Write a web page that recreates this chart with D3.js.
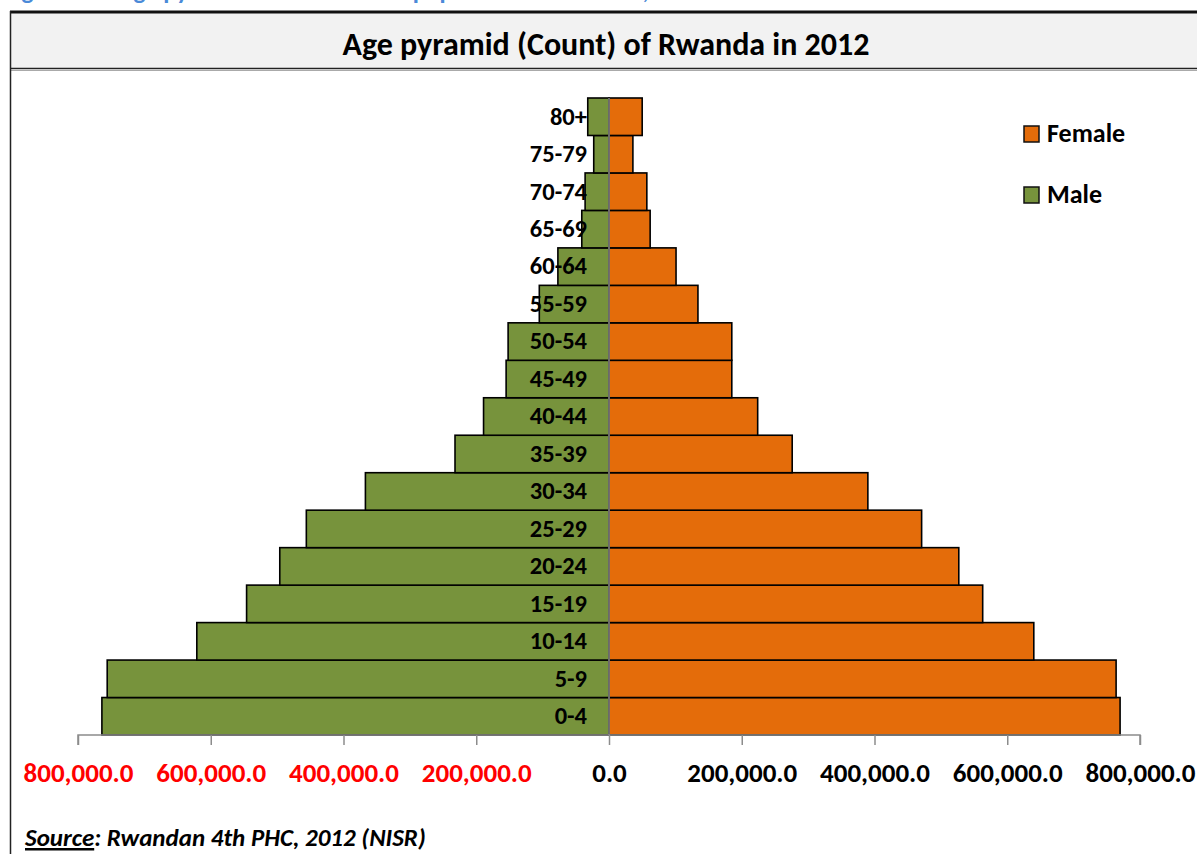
<!DOCTYPE html>
<html>
<head>
<meta charset="utf-8">
<script src="https://cdn.jsdelivr.net/npm/d3@7"></script>
<style>
  html, body { margin: 0; padding: 0; background: #fff; }
  svg { display: block; font-family: Carlito, Lato, "Open Sans", sans-serif; }
</style>
</head>
<body>
<svg id="chart" width="1197" height="854"></svg>
<script>
// ---- data ----
const ageGroups = ["0-4","5-9","10-14","15-19","20-24","25-29","30-34","35-39","40-44","45-49","50-54","55-59","60-64","65-69","70-74","75-79","80+"];
const maleValues = [764000,756000,621000,546000,496000,456000,367000,232000,189000,155000,152000,105000,77000,41000,36000,23000,32000];
const femaleValues = [770000,764000,640000,563000,527000,471000,390000,276000,224000,185000,185000,134000,101000,62000,57000,36000,50000];
const tickValues = [-800000,-600000,-400000,-200000,0,200000,400000,600000,800000];
const seriesNames = ["Female","Male"];
const seriesColors = ["#e46c0a","#77933c"];
const chartTitle = "Age pyramid (Count) of Rwanda in 2012";
const figureCaption = "Figure 2.3: Age pyramid of the resident population of Rwanda, 2012";

const svg = d3.select("#chart");

// caption (cut off at top, as in the reference)
svg.append("text").attr("x", 4).attr("y", -1)
  .attr("font-size", 25).attr("font-weight", "bold").attr("fill", "#4a8ad8")
  .text(figureCaption);

// frame
svg.append("rect").attr("x", 10.5).attr("y", 12).attr("width", 1200).attr("height", 57)
  .attr("fill", "#f2f2f2");
svg.append("line").attr("x1", 10).attr("x2", 1197).attr("y1", 12).attr("y2", 12)
  .attr("stroke", "#111").attr("stroke-width", 3);
svg.append("line").attr("x1", 10).attr("x2", 1197).attr("y1", 68.5).attr("y2", 68.5)
  .attr("stroke", "#222").attr("stroke-width", 1.5);
svg.append("line").attr("x1", 10).attr("x2", 1197).attr("y1", 70.5).attr("y2", 70.5)
  .attr("stroke", "#aaa").attr("stroke-width", 1);
svg.append("line").attr("x1", 10.5).attr("x2", 10.5).attr("y1", 11).attr("y2", 854)
  .attr("stroke", "#222").attr("stroke-width", 1.5);

svg.append("text").attr("x", 606).attr("y", 55).attr("text-anchor", "middle")
  .attr("font-size", 32).attr("font-weight", "bold").attr("fill", "#000")
  .text(chartTitle);

// scales
const x = d3.scaleLinear().domain([-800000, 800000]).range([78, 1140]);
const y = d3.scaleBand().domain(ageGroups.slice().reverse()).range([98, 735]).padding(0);

const g = svg.append("g");

// male bars
g.selectAll("rect.male").data(ageGroups).join("rect").attr("class","male")
  .attr("x", (d,i) => x(-maleValues[i]))
  .attr("y", d => y(d))
  .attr("width", (d,i) => x(0) - x(-maleValues[i]))
  .attr("height", y.bandwidth())
  .attr("fill", seriesColors[1]).attr("stroke", "#000").attr("stroke-width", 1.6);

// female bars
g.selectAll("rect.female").data(ageGroups).join("rect").attr("class","female")
  .attr("x", x(0))
  .attr("y", d => y(d))
  .attr("width", (d,i) => x(femaleValues[i]) - x(0))
  .attr("height", y.bandwidth())
  .attr("fill", seriesColors[0]).attr("stroke", "#000").attr("stroke-width", 1.6);

// vertical category axis line at 0
g.append("line").attr("x1", x(0)).attr("x2", x(0)).attr("y1", 98).attr("y2", 735)
  .attr("stroke", "#8c8c8c").attr("stroke-width", 1.5);

// x axis
const xAxis = d3.axisBottom(x).tickValues(tickValues).tickSize(10).tickPadding(18)
  .tickFormat(d => d3.format(",.1f")(Math.abs(d)));
const ax = svg.append("g").attr("transform", "translate(0,735)").call(xAxis);
ax.select(".domain").attr("stroke", "#8c8c8c").attr("stroke-width", 1.5)
  .attr("d", `M${x(-800000)},10V0H${x(800000)}V10`);
ax.selectAll(".tick line").attr("stroke", "#8c8c8c").attr("stroke-width", 1.5);
ax.selectAll(".tick text").attr("font-family", "Carlito, Lato, sans-serif")
  .attr("font-size", 27).attr("font-weight", "bold")
  .attr("fill", d => d < 0 ? "#ff0000" : "#000");

// age labels
const yAxis = d3.axisLeft(y).tickSize(0).tickPadding(0);
const ay = svg.append("g").attr("transform", `translate(${x(0) - 22},0)`).call(yAxis);
ay.select(".domain").remove();
ay.selectAll(".tick text").attr("font-family", "Carlito, Lato, sans-serif")
  .attr("font-size", 24.5).attr("font-weight", "bold").attr("fill", "#000");

// legend
const legend = svg.append("g");
seriesNames.forEach((name, i) => {
  const ly = 126 + i * 61;
  legend.append("rect").attr("x", 1024).attr("y", ly).attr("width", 15).attr("height", 16)
    .attr("fill", seriesColors[i]).attr("stroke", "#111").attr("stroke-width", 1.5);
  legend.append("text").attr("x", 1047).attr("y", ly + 16)
    .attr("font-size", 26).attr("font-weight", "bold").attr("fill", "#000").text(name);
});

// source
const src = svg.append("text").attr("x", 25).attr("y", 846)
  .attr("font-size", 25).attr("font-weight", "bold").attr("font-style", "italic").attr("fill", "#000");
src.append("tspan").attr("text-decoration", "underline").text("Source");
src.append("tspan").text(": Rwandan 4th PHC, 2012  (NISR)");
</script>
</body>
</html>
